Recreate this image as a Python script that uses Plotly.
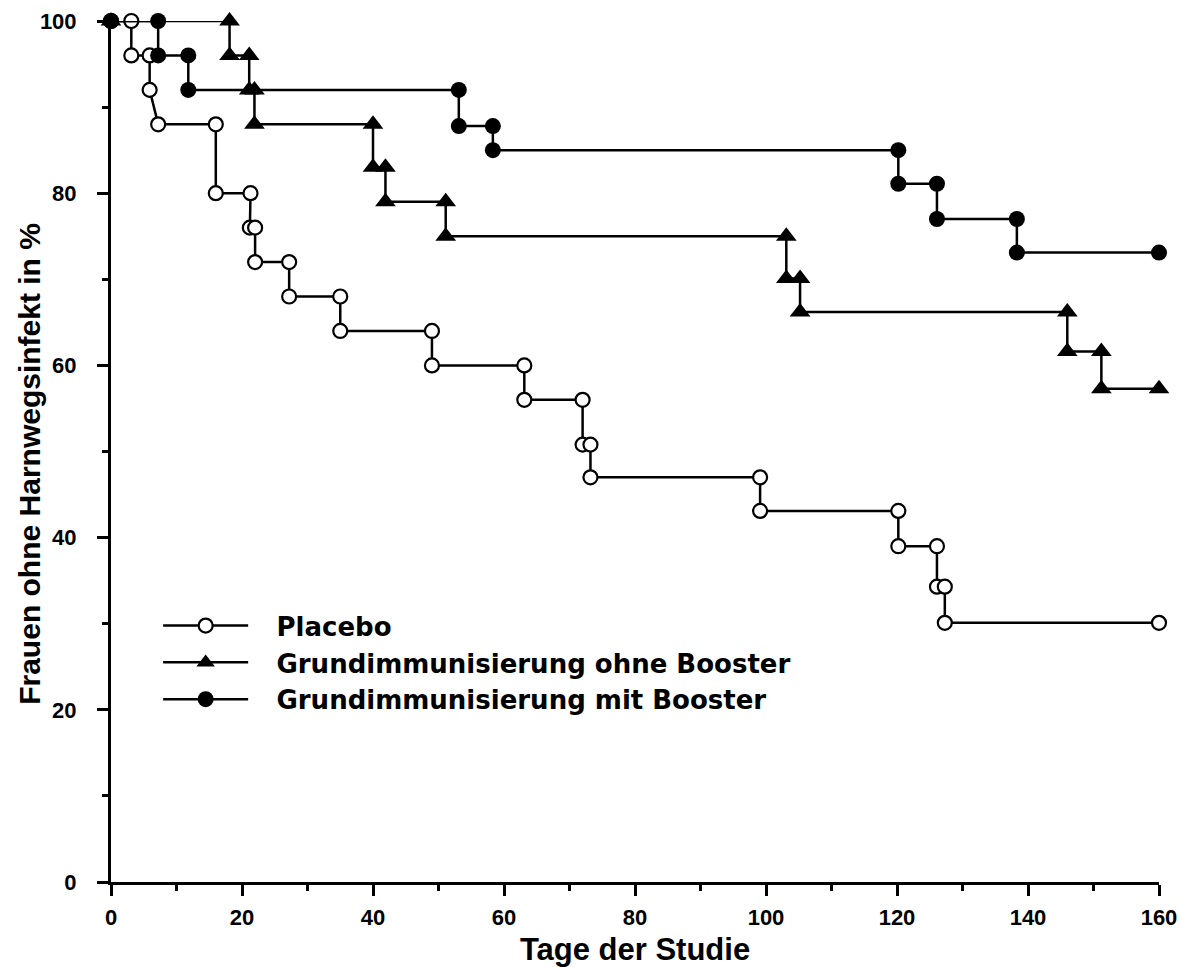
import plotly.graph_objects as go

# ---- data ----
placebo_x = [0, 3.1, 3.1, 5.9, 5.9, 7.2, 16.0, 16.0, 21.3, 21.2, 22.0, 22.0, 27.2, 27.2,
             35.0, 35.0, 49.0, 49.0, 63.1, 63.1, 72.0, 72.0, 73.2, 73.2, 99.1, 99.1,
             120.2, 120.2, 126.1, 126.1, 127.3, 127.3, 160]
placebo_y = [100, 100, 96, 96, 92, 88, 88, 80, 80, 76, 76, 72, 72, 68,
             68, 64, 64, 60, 60, 56, 56, 50.8, 50.8, 47, 47, 43.1,
             43.1, 39.0, 39.0, 34.3, 34.3, 30.1, 30.1]

ohne_x = [0, 18.1, 18.1, 21.1, 21.1, 21.9, 21.9, 40.0, 40.0, 41.9, 41.9, 51.1, 51.1,
          103.1, 103.1, 105.2, 105.2, 146.0, 146.0, 151.2, 151.2, 160]
ohne_y = [100, 100, 96, 96, 92, 92, 88, 88, 83, 83, 79, 79, 75,
          75, 70.1, 70.1, 66.2, 66.2, 61.6, 61.6, 57.3, 57.3]

mit_x = [0, 7.2, 7.2, 11.8, 11.8, 53.1, 53.1, 58.3, 58.3, 120.2, 120.2, 126.1, 126.1,
         138.3, 138.3, 160]
mit_y = [100, 100, 96, 96, 92, 92, 87.8, 87.8, 85, 85, 81.1, 81.1, 77,
         77, 73.1, 73.1]

names = ["Placebo", "Grundimmunisierung ohne Booster", "Grundimmunisierung mit Booster"]
x_ticks = [0, 20, 40, 60, 80, 100, 120, 140, 160]
y_ticks = [0, 20, 40, 60, 80, 100]
x_title = "Tage der Studie"
y_title = "Frauen ohne Harnwegsinfekt in %"

FONT = "Liberation Sans, Arial, sans-serif"
LEG_FONT = "DejaVu Sans, sans-serif"
PAD = "\u00a0\u00a0\u2009"

fig = go.Figure()
fig.add_trace(go.Scatter(
    x=placebo_x, y=placebo_y, name=PAD + names[0], mode="lines+markers",
    line=dict(color="black", width=2.5),
    marker=dict(symbol="circle", size=14, color="white", line=dict(color="black", width=2.2)),
    cliponaxis=False))
fig.add_trace(go.Scatter(
    x=ohne_x, y=ohne_y, name=PAD + names[1], mode="lines+markers",
    line=dict(color="black", width=2.5),
    marker=dict(symbol="triangle-up", size=18, color="black", line=dict(color="black", width=0)),
    cliponaxis=False))
fig.add_trace(go.Scatter(
    x=mit_x, y=mit_y, name=PAD + names[2], mode="lines+markers",
    line=dict(color="black", width=2.5),
    marker=dict(symbol="circle", size=16, color="black", line=dict(color="black", width=0)),
    cliponaxis=False))

axis_common = dict(
    showline=True, linecolor="black", linewidth=3,
    ticks="outside", ticklen=11, tickwidth=2.5, tickcolor="black",
    showgrid=False, zeroline=False, automargin=False,
    tickfont=dict(family=FONT, size=22, color="black", weight="bold"),
    minor=dict(ticks="outside", ticklen=6, tickwidth=2.5, tickcolor="black", dtick=10, showgrid=False),
)

fig.update_layout(
    width=1180, height=967, autosize=False,
    paper_bgcolor="white", plot_bgcolor="white",
    margin=dict(l=111, r=21, t=21, b=85, pad=0),
    xaxis=dict(range=[0, 160], tickvals=x_ticks, ticktext=[str(v) for v in x_ticks],
               ticklabelstandoff=3,
               title=dict(text=x_title, standoff=15,
                          font=dict(family=FONT, size=31, color="black", weight="bold")),
               **axis_common),
    yaxis=dict(range=[0, 100], tickvals=y_ticks, ticktext=[str(v) for v in y_ticks],
               ticklabelstandoff=16,
               **axis_common),
    legend=dict(x=0.045, y=0.325, xanchor="left", yanchor="top",
                bgcolor="rgba(0,0,0,0)", borderwidth=0, itemwidth=85,
                tracegroupgap=0,
                font=dict(family=LEG_FONT, size=26, color="black", weight="bold")),
    showlegend=True,
    annotations=[dict(text=y_title, textangle=-90, showarrow=False,
                      xref="paper", yref="paper", x=-0.078, y=0.486,
                      xanchor="center", yanchor="middle",
                      font=dict(family=FONT, size=30, color="black", weight="bold"))],
)

fig.write_html("out.html", config={"displayModeBar": False},
               post_script="document.body.style.margin='0';document.body.style.overflow='hidden';")
